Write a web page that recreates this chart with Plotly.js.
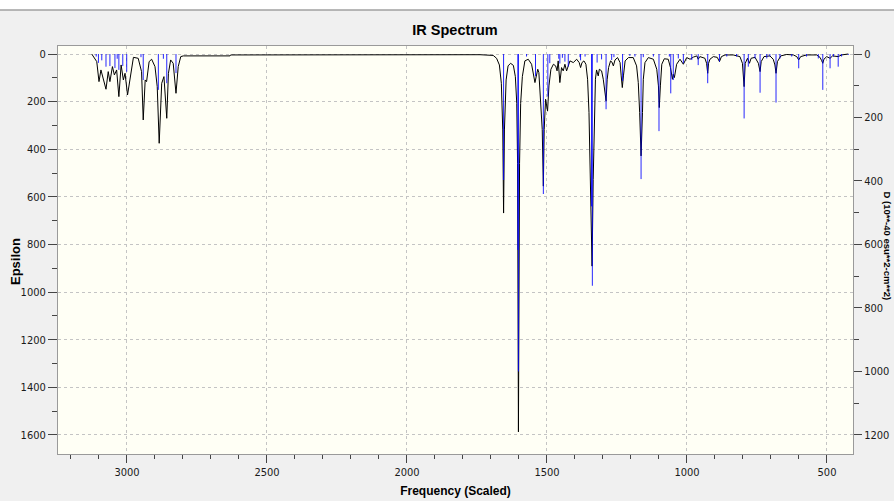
<!DOCTYPE html>
<html>
<head>
<meta charset="utf-8">
<script src="https://cdn.plot.ly/plotly-3.0.1.min.js"></script>
<style>
  html, body { margin: 0; padding: 0; background: #f0f0f0; }
  #chart { width: 894px; height: 501px; }
</style>
</head>
<body>
<div id="chart"></div>
<script>
// ---- Data ----
// Computed IR transitions (sticks, right axis)
const stickFreq = [3110, 3102, 3090, 3075, 3061, 3043, 3035, 3029, 3015, 3001, 2950, 2942, 2888, 2870, 2858, 2825,
  1655, 1604, 1602, 1573, 1541, 1513, 1497, 1490, 1458, 1454, 1445, 1436, 1424, 1382, 1380, 1364,
  1341, 1338, 1321, 1305, 1289, 1269, 1261, 1230, 1204, 1186, 1164, 1156, 1120, 1100,
  1063, 1058, 1049, 1031, 1013, 983, 960, 926, 884, 858, 823, 796, 781, 757, 739, 715,
  704, 682, 668, 626, 601, 573, 531, 515, 489, 477, 460, 448, 424];
const stickInt = [8, 28, 20, 40, 38, 44, 15, 50, 38, 56, 10, 82, 113, 15, 92, 60,
  397, 617, 1000, 8, 70, 441, 134, 29, 15, 30, 12, 24, 40, 10, 20, 8,
  480, 730, 27, 17, 174, 19, 10, 85, 6, 8, 394, 10, 8, 243,
  8, 124, 82, 14, 29, 19, 35, 92, 24, 8, 8, 203, 40, 14, 122, 14,
  8, 153, 14, 8, 45, 8, 14, 113, 45, 8, 40, 8, 3];

// Broadened spectrum (left axis, Epsilon)
const curveFreq = [3126, 3108, 3100, 3093, 3075, 3067, 3061, 3052, 3045, 3037, 3029, 3021, 3013, 3007, 2998,
  2977, 2960, 2948, 2942, 2935, 2930, 2921, 2912, 2900, 2892, 2885, 2876, 2868, 2858, 2852, 2844, 2835,
  2825, 2817, 2808, 2799, 2632, 2630, 1739, 1692, 1680, 1670, 1663, 1658, 1655, 1652, 1646, 1639, 1630,
  1620, 1613, 1608, 1605, 1602, 1598, 1594, 1588, 1579, 1567, 1555, 1543, 1533, 1529, 1523, 1517, 1513,
  1510, 1505, 1498, 1493, 1486, 1477, 1469, 1464, 1460, 1454, 1448, 1442, 1436, 1430, 1424, 1418, 1406,
  1394, 1385, 1380, 1375, 1368, 1361, 1355, 1350, 1345, 1339, 1335, 1331, 1327, 1323, 1317, 1313, 1305,
  1299, 1294, 1289, 1285, 1280, 1273, 1268, 1263, 1257, 1248, 1239, 1235, 1231, 1227, 1221, 1209, 1192,
  1180, 1174, 1169, 1164, 1159, 1156, 1150, 1138, 1120, 1108, 1102, 1099, 1095, 1090, 1081, 1067, 1059,
  1052, 1049, 1045, 1037, 1025, 1013, 1001, 989, 977, 965, 960, 954, 936, 930, 926, 923, 918, 906, 892,
  884, 877, 864, 835, 811, 802, 796, 792, 784, 777, 771, 757, 745, 739, 735, 725, 704, 692, 686, 682,
  677, 665, 644, 620, 608, 601, 594, 573, 537, 525, 519, 515, 511, 501, 489, 480, 460, 448, 424];
const curveEps = [0, 32, 116, 67, 148, 74, 116, 53, 88, 67, 179, 46, 109, 81, 172,
  14, 18, 74, 277, 109, 116, 32, 22, 53, 137, 375, 123, 95, 270, 81, 25, 39,
  165, 53, 11, 8, 8, 4, 3, 6, 18, 46, 123, 319, 668, 319, 109, 50, 39,
  48, 95, 207, 459, 1587, 459, 207, 95, 29, 22, 43, 120, 64, 78, 176, 317, 555,
  317, 190, 240, 134, 64, 43, 50, 71, 29, 120, 57, 71, 43, 71, 50, 29, 36,
  22, 36, 57, 36, 29, 43, 106, 246, 527, 891, 527, 246, 106, 67, 92, 64, 71,
  106, 148, 197, 106, 57, 29, 34, 50, 25, 15, 36, 92, 141, 92, 29, 15, 15,
  50, 120, 246, 428, 246, 106, 36, 15, 22, 64, 134, 225, 134, 43, 20, 22, 57,
  106, 85, 99, 43, 22, 43, 15, 22, 13, 8, 22, 11, 18, 39, 81, 39, 22, 11, 14,
  32, 11, 4, 4, 11, 39, 137, 39, 18, 39, 18, 14, 39, 74, 32, 11, 8, 22, 46, 81,
  32, 8, 2, 4, 11, 25, 11, 4, 4, 14, 28, 39, 22, 11, 18, 8, 11, 4, 0];

const xTickVals = [500, 1000, 1500, 2000, 2500, 3000];
const xTickText = ['500', '1000', '1500', '2000', '2500', '3000'];

// ---- Build stick trace (vertical lines from 0 to intensity) ----
const sx = [], sy = [];
for (let i = 0; i < stickFreq.length; i++) {
  sx.push(stickFreq[i], stickFreq[i], null);
  sy.push(0, stickInt[i], null);
}

const tickFont = { family: '"Liberation Sans Narrow", "Arial Narrow", "DejaVu Sans Condensed", "Liberation Sans", Arial, sans-serif', size: 11, color: '#1a1a1a' };
const boldFont = { family: '"Liberation Sans", Arial, sans-serif', size: 12, color: '#000', weight: 'bold' };

const traces = [
  {
    x: curveFreq, y: curveEps, type: 'scatter', mode: 'lines',
    line: { color: '#000000', width: 1 }, yaxis: 'y', hoverinfo: 'skip', name: 'Epsilon'
  },
  {
    x: sx, y: sy, type: 'scatter', mode: 'lines',
    line: { color: 'rgba(0,0,255,0.85)', width: 1 }, yaxis: 'y2', hoverinfo: 'skip', name: 'Sticks',
    connectgaps: false
  }
];

const L = 58, R = 853, T = 46, B = 454, W = 894, H = 501;
const px2paperX = p => (p - L) / (R - L);
const px2paperY = p => (B - p) / (B - T);

const layout = {
  width: W, height: H,
  paper_bgcolor: '#f0f0f0',
  plot_bgcolor: '#fffff5',
  showlegend: false,
  margin: { l: L, r: W - R, t: T, b: H - B, pad: 0 },
  title: {
    text: 'IR Spectrum',
    font: { family: '"Liberation Sans", Arial, sans-serif', size: 14.5, color: '#000', weight: 'bold' },
    x: 455 / W, xanchor: 'center', xref: 'container',
    y: 1 - 30 / H, yanchor: 'middle', yref: 'container'
  },
  xaxis: {
    range: [3246.4, 407.1],
    tickvals: xTickVals, ticktext: xTickText,
    ticks: 'outside', ticklen: 8, tickwidth: 1, tickcolor: '#444',
    minor: { dtick: 100, tick0: 0, ticks: 'outside', ticklen: 4, tickcolor: '#444', showgrid: false },
    showgrid: true, gridcolor: '#c4c4c4', griddash: '3px,3px', gridwidth: 1,
    zeroline: false, showline: true, linecolor: '#9a9a9a', linewidth: 1, mirror: true,
    tickfont: tickFont,
    title: { text: 'Frequency (Scaled)', font: boldFont, standoff: 8 }
  },
  yaxis: {
    range: [1680, -33.6],
    dtick: 200, tick0: 0,
    ticks: 'outside', ticklen: 9, tickwidth: 1, tickcolor: '#444',
    minor: { dtick: 100, tick0: 0, ticks: 'outside', ticklen: 5, tickcolor: '#444', showgrid: false },
    showgrid: true, gridcolor: '#c4c4c4', griddash: '3px,3px', gridwidth: 1,
    zeroline: false, showline: true, linecolor: '#9a9a9a', linewidth: 1, mirror: true,
    tickfont: tickFont,
    automargin: false,
    title: { text: '' }
  },
  yaxis2: {
    overlaying: 'y', side: 'right',
    range: [1260, -25.2],
    dtick: 200, tick0: 0,
    ticks: 'outside', ticklen: 8, tickwidth: 1, tickcolor: '#444',
    minor: { dtick: 100, tick0: 0, ticks: 'outside', ticklen: 5, tickcolor: '#444', showgrid: false },
    showgrid: false, zeroline: false, showline: false,
    tickfont: tickFont
  },
  shapes: [
    { type: 'rect', xref: 'paper', yref: 'paper', x0: px2paperX(-5), x1: px2paperX(W + 5), y0: px2paperY(10), y1: px2paperY(-5),
      fillcolor: '#ffffff', line: { width: 0 }, layer: 'below' },
    { type: 'line', xref: 'paper', yref: 'paper', x0: px2paperX(0), x1: px2paperX(W), y0: px2paperY(10), y1: px2paperY(10),
      line: { color: '#a0a0a0', width: 1.5 } }
  ],
  annotations: [
    { text: 'D (10**-40 esu**2-cm**2)', textangle: 90, showarrow: false, borderpad: 0,
      xref: 'paper', yref: 'paper', x: px2paperX(894), xanchor: 'right', y: px2paperY(246), yanchor: 'middle',
      font: { family: '"Liberation Sans", Arial, sans-serif', size: 9.5, color: '#000', weight: 'bold' } },
    { text: 'Epsilon', textangle: -90, showarrow: false,
      xref: 'paper', yref: 'paper', x: px2paperX(15), xanchor: 'center', y: px2paperY(262), yanchor: 'middle',
      font: { family: '"Liberation Sans", Arial, sans-serif', size: 13, color: '#000', weight: 'bold' } }
  ]
};

Plotly.newPlot('chart', traces, layout, { displayModeBar: false, staticPlot: true });
</script>
</body>
</html>
